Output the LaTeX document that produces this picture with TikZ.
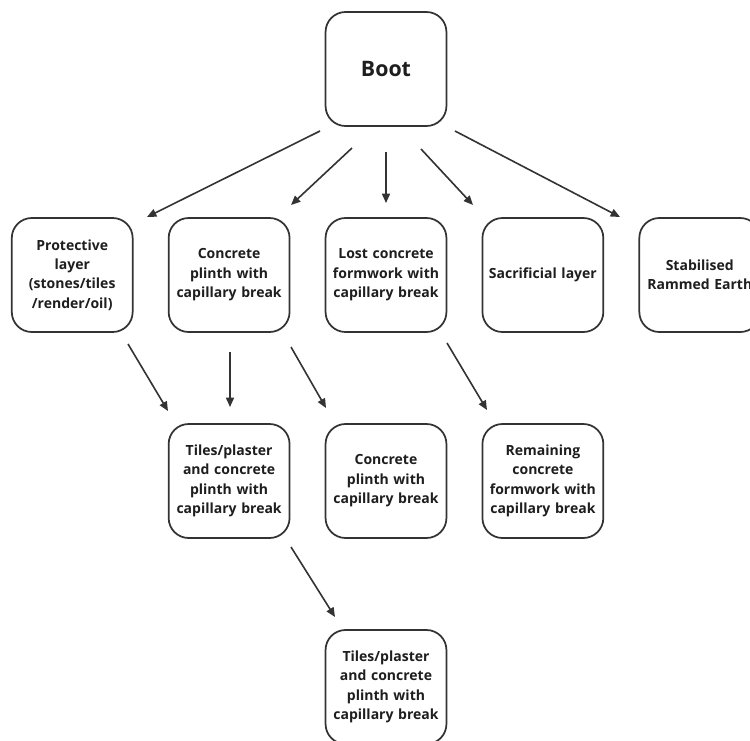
\documentclass[tikz,border=0pt]{standalone}
\usepackage{fontspec}
\setmainfont{Open Sans}
\usetikzlibrary{positioning,arrows.meta}
\definecolor{ink}{HTML}{1E1E1E}
\definecolor{linegray}{HTML}{333333}

\begin{document}
\begin{tikzpicture}[x=0.75pt, y=-0.75pt, node distance=69pt and 27pt,
    box/.style={draw=linegray, line width=1.3pt, rounded corners=15pt, align=center,
      minimum width=90pt, minimum height=85.5pt, text width=84pt, text=ink, outer sep=0pt,
      font=\bfseries\fontsize{10.5}{14.6}\selectfont},
    arr/.style={-{Triangle[length=7pt,width=6pt]}, line width=1.2pt, draw=linegray}]
    \useasboundingbox (0,0) rectangle (750,740);
    \fill[white] (0,0) rectangle (750,740);

    \node[box, font=\bfseries\fontsize{16}{19}\selectfont] (boot) at (386,69) {Boot};
    \node[box, below=of boot] (lost) {Lost concrete\\formwork with\\capillary break};
    \node[box, left=of lost] (plinth) {Concrete\\plinth with\\capillary break};
    \node[box, left=of plinth] (prot) {Protective\\layer\\(stones/tiles\\/render/oil)};
    \node[box, right=of lost] (sacr) {Sacrificial layer};
    \node[box, right=of sacr] (stab) {Stabilised\\Rammed Earth};
    \node[box, below=of plinth] (tiles) {Tiles/plaster\\and concrete\\plinth with\\capillary break};
    \node[box, below=of lost] (plinthb) {Concrete\\plinth with\\capillary break};
    \node[box, below=of sacr] (remain) {Remaining\\concrete\\formwork with\\capillary break};
    \node[box, below=of plinthb] (tilesb) {Tiles/plaster\\and concrete\\plinth with\\capillary break};

    % free arrow ends
    \coordinate (s1) at (320,131); \coordinate (e1) at (147,217);
    \coordinate (s2) at (352,148); \coordinate (e2) at (291,205);
    \coordinate (s3) at (386,152); \coordinate (e3) at (386,203);
    \coordinate (s4) at (421,149); \coordinate (e4) at (473,205);
    \coordinate (s5) at (455,131); \coordinate (e5) at (620,217);
    \coordinate (s6) at (128,344); \coordinate (e6) at (168,411);
    \coordinate (s7) at (230,352); \coordinate (e7) at (230,407);
    \coordinate (s8) at (291,347); \coordinate (e8) at (326,408);
    \coordinate (s9) at (447,343); \coordinate (e9) at (487,410);
    \coordinate (s10) at (291,547); \coordinate (e10) at (335,617);

    \draw[arr] (s1) -- (e1);
    \draw[arr] (s2) -- (e2);
    \draw[arr] (s3) -- (e3);
    \draw[arr] (s4) -- (e4);
    \draw[arr] (s5) -- (e5);
    \draw[arr] (s6) -- (e6);
    \draw[arr] (s7) -- (e7);
    \draw[arr] (s8) -- (e8);
    \draw[arr] (s9) -- (e9);
    \draw[arr] (s10) -- (e10);
  \end{tikzpicture}
\end{document}
